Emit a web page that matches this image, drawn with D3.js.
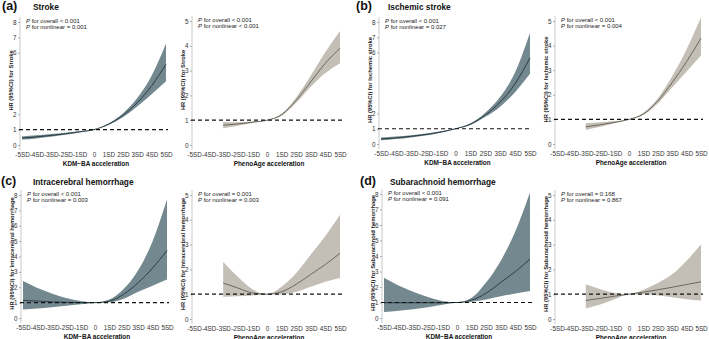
<!DOCTYPE html>
<html>
<head>
<meta charset="utf-8">
<script src="https://cdn.jsdelivr.net/npm/d3@7"></script>
<style>
body { margin: 0; background: #fff; }
svg { font-family: "Liberation Sans", Arial, Helvetica, sans-serif; }
</style>
</head>
<body>
<div id="chart"></div>
<script>
// x positions (SD of acceleration)
let sdKdm = [-5, -4, -3, -2, -1, 0, 1, 2, 3, 4, 5];
let sdPheno = [-3, -2, -1, 0, 1, 2, 3, 4, 5];
let sdTicks = [-5, -4, -3, -2, -1, 0, 1, 2, 3, 4, 5];
let sdTickLabels = ["-5SD", "-4SD", "-3SD", "-2SD", "-1SD", "0", "1SD", "2SD", "3SD", "4SD", "5SD"];

// (a) stroke
let strokeKdmEst = [0.45, 0.53, 0.62, 0.73, 0.86, 1.0, 1.35, 1.92, 2.75, 3.85, 5.25];
let strokeKdmLo  = [0.35, 0.43, 0.53, 0.66, 0.82, 1.0, 1.3, 1.8, 2.5, 3.3, 4.15];
let strokeKdmHi  = [0.56, 0.63, 0.71, 0.8, 0.9, 1.0, 1.4, 2.05, 3.05, 4.5, 6.6];
let strokePhenoEst = [0.8, 0.85, 0.92, 1.0, 1.22, 1.8, 2.55, 3.3, 3.9];
let strokePhenoLo  = [0.68, 0.78, 0.89, 1.0, 1.18, 1.7, 2.35, 2.9, 3.3];
let strokePhenoHi  = [0.93, 0.92, 0.95, 1.0, 1.27, 1.92, 2.8, 3.75, 4.6];

// (b) ischemic stroke
let ischKdmEst = [0.32, 0.4, 0.5, 0.62, 0.78, 1.0, 1.3, 1.9, 2.75, 3.95, 5.65];
let ischKdmLo  = [0.24, 0.32, 0.43, 0.56, 0.74, 1.0, 1.25, 1.78, 2.45, 3.4, 4.6];
let ischKdmHi  = [0.42, 0.5, 0.58, 0.69, 0.83, 1.0, 1.36, 2.05, 3.1, 4.7, 7.3];
let ischPhenoEst = [0.7, 0.78, 0.88, 1.0, 1.22, 1.75, 2.5, 3.35, 4.3];
let ischPhenoLo  = [0.57, 0.7, 0.84, 1.0, 1.18, 1.65, 2.3, 2.95, 3.6];
let ischPhenoHi  = [0.84, 0.88, 0.93, 1.0, 1.27, 1.85, 2.75, 3.85, 5.15];

// (c) intracerebral hemorrhage
let ichKdmEst = [1.15, 1.1, 1.05, 1.02, 1.0, 1.0, 1.1, 1.55, 2.3, 3.25, 4.4];
let ichKdmLo  = [0.55, 0.62, 0.7, 0.8, 0.9, 1.0, 1.02, 1.25, 1.7, 2.1, 2.5];
let ichKdmHi  = [2.4, 1.95, 1.6, 1.3, 1.1, 1.0, 1.2, 1.9, 3.1, 5.0, 7.7];
let ichPhenoEst = [1.45, 1.25, 1.05, 1.0, 1.1, 1.4, 1.8, 2.2, 2.65];
let ichPhenoLo  = [0.9, 0.92, 0.95, 1.0, 1.0, 1.1, 1.3, 1.5, 1.65];
let ichPhenoHi  = [2.3, 1.7, 1.2, 1.0, 1.3, 1.85, 2.6, 3.35, 4.2];

// (d) subarachnoid hemorrhage
let sahKdmEst = [0.98, 0.98, 0.98, 0.98, 0.98, 1.0, 1.15, 1.6, 2.3, 3.0, 3.8];
let sahKdmLo  = [0.38, 0.47, 0.57, 0.7, 0.85, 1.0, 1.05, 1.2, 1.4, 1.58, 1.75];
let sahKdmHi  = [2.6, 2.1, 1.7, 1.35, 1.1, 1.0, 1.3, 2.3, 3.7, 5.6, 8.1];
let sahPhenoEst = [0.75, 0.83, 0.92, 1.0, 1.08, 1.18, 1.28, 1.39, 1.5];
let sahPhenoLo  = [0.42, 0.58, 0.8, 1.0, 1.0, 0.95, 0.88, 0.8, 0.75];
let sahPhenoHi  = [1.4, 1.2, 1.05, 1.0, 1.18, 1.45, 1.8, 2.35, 3.0];

let outcomes = ["Stroke", "Ischemic stroke", "Intracerebral hemorrhage", "Subarachnoid hemorrhage"];
let letters = ["(a)", "(b)", "(c)", "(d)"];
let pOverall  = [["< 0.001", "< 0.001"], ["< 0.001", "< 0.001"], ["< 0.001", "= 0.001"], ["< 0.001", "= 0.168"]];
let pNonlinear = [["= 0.001", "< 0.001"], ["= 0.027", "= 0.004"], ["= 0.003", "= 0.003"], ["= 0.091", "= 0.867"]];
let kdmTicksTop = [0, 1, 2, 6, 7, 8];
let kdmTicksBottom = [0, 1, 2, 3, 4, 5, 6, 7, 8];
let phenoTicks = [0, 1, 2, 3, 4, 5];

let seriesData = [
  [[strokeKdmEst, strokeKdmLo, strokeKdmHi], [strokePhenoEst, strokePhenoLo, strokePhenoHi]],
  [[ischKdmEst, ischKdmLo, ischKdmHi], [ischPhenoEst, ischPhenoLo, ischPhenoHi]],
  [[ichKdmEst, ichKdmLo, ichKdmHi], [ichPhenoEst, ichPhenoLo, ichPhenoHi]],
  [[sahKdmEst, sahKdmLo, sahKdmHi], [sahPhenoEst, sahPhenoLo, sahPhenoHi]]
];

// layout of the 8 sub plots: [x(-5), x(5), y(0), y(max)]
let layout = [
  { title: [2, 9.5, 33], sub: [[22, 166, 145, 22], [194, 340, 145, 21]] },
  { title: [356, 9.5, 388], sub: [[381, 530, 144, 22], [557, 701, 144, 21]] },
  { title: [1, 185, 33], sub: [[23, 167, 318, 195], [194, 340, 319, 195]] },
  { title: [360, 185, 390], sub: [[384, 530, 318, 194], [557, 701, 319, 195]] }
];

let svg = d3.select('#chart').append('svg')
  .attr('width', 709)
  .attr('height', 339);

let kinds = [
  { name: "KDM\u2212BA acceleration", sd: sdKdm, max: 8, band: "#74898f", line: "#2a3d45" },
  { name: "PhenoAge acceleration", sd: sdPheno, max: 5, band: "#c3bfb6", line: "#6d675e" }
];

outcomes.forEach(function(outcome, i) {
  let t = layout[i].title;
  let title = svg.append('text')
    .attr('x', t[0]).attr('y', t[1])
    .attr('font-weight', 'bold')
    .attr('fill', '#111');
  title.append('tspan').attr('font-size', 12.5).text(letters[i]);
  title.append('tspan').attr('x', t[2]).attr('font-size', 8.3).text(outcome);

  kinds.forEach(function(kind, j) {
    let s = layout[i].sub[j];
    let x = d3.scaleLinear().domain([-5, 5]).range([s[0], s[1]]);
    let y = d3.scaleLinear().domain([0, kind.max]).range([s[2], s[3]]);
    let axisX = s[0] - 2;
    let g = svg.append('g');

    let ticks = j == 1 ? phenoTicks : (i < 2 ? kdmTicksTop : kdmTicksBottom);

    // y axis
    let yAxis = d3.axisLeft(y).tickValues(ticks).tickSize(2).tickPadding(1.5).tickFormat(d3.format('d'));
    let ya = g.append('g')
      .attr('transform', `translate(${axisX},0)`)
      .call(yAxis);
    ya.select('.domain').remove();
    ya.selectAll('line').attr('stroke', '#aaa');
    ya.selectAll('text').attr('font-size', 6.3).attr('fill', '#333').attr('font-family', null);
    g.append('line')
      .attr('x1', axisX).attr('x2', axisX)
      .attr('y1', y(kind.max) - 5).attr('y2', y(0) + 5)
      .attr('stroke', '#bbb').attr('stroke-width', 0.8);

    // x tick labels
    let xAxis = d3.axisBottom(x).tickValues(sdTicks).tickSize(0).tickPadding(0)
      .tickFormat((d, k) => sdTickLabels[k]);
    let xa = g.append('g')
      .attr('transform', `translate(0,${y(0) + 8})`)
      .call(xAxis);
    xa.select('.domain').remove();
    xa.selectAll('text').attr('font-size', 6.3).attr('fill', '#333').attr('font-family', null);

    g.append('text')
      .attr('x', (s[0] + s[1]) / 2 + 2)
      .attr('y', y(0) + 20.5)
      .attr('text-anchor', 'middle')
      .attr('font-size', 6.4)
      .attr('font-weight', 'bold')
      .attr('fill', '#111')
      .text(kind.name);

    // y title
    g.append('text')
      .attr('transform', `translate(${axisX - 9},${(y(0) + y(kind.max)) / 2 - 3}) rotate(-90)`)
      .attr('text-anchor', 'middle')
      .attr('dominant-baseline', 'middle')
      .attr('font-size', 5.8)
      .attr('font-weight', 'bold')
      .attr('fill', '#222')
      .text('HR (95%CI) for ' + outcome);

    // band and line
    let vals = seriesData[i][j];
    let rows = kind.sd.map((d, k) => ({ sd: d, est: vals[0][k], lo: vals[1][k], hi: vals[2][k] }));

    g.append('path')
      .datum(rows)
      .attr('fill', kind.band)
      .attr('d', d3.area().curve(d3.curveMonotoneX)
        .x(d => x(d.sd)).y0(d => y(d.lo)).y1(d => y(d.hi)));

    g.append('path')
      .datum(rows)
      .attr('fill', 'none')
      .attr('stroke', kind.line)
      .attr('stroke-width', 1)
      .attr('d', d3.line().curve(d3.curveMonotoneX)
        .x(d => x(d.sd)).y(d => y(d.est)));

    // reference line HR = 1
    g.append('line')
      .attr('x1', x(-5) - 3).attr('x2', x(5) + 2)
      .attr('y1', y(1)).attr('y2', y(1))
      .attr('stroke', '#111')
      .attr('stroke-width', 1.2)
      .attr('stroke-dasharray', '4,3');

    // p values
    let pt = g.append('text')
      .attr('x', axisX + 6)
      .attr('y', y(kind.max) + 0.5)
      .attr('font-size', 6)
      .attr('fill', '#222');
    pt.append('tspan').attr('font-style', 'italic').text('P');
    pt.append('tspan').text(' for overall ' + pOverall[i][j]);
    let pt2 = g.append('text')
      .attr('x', axisX + 6)
      .attr('y', y(kind.max) + 6.8)
      .attr('font-size', 6)
      .attr('fill', '#222');
    pt2.append('tspan').attr('font-style', 'italic').text('P');
    pt2.append('tspan').text(' for nonlinear ' + pNonlinear[i][j]);
  });
});
</script>
</body>
</html>
